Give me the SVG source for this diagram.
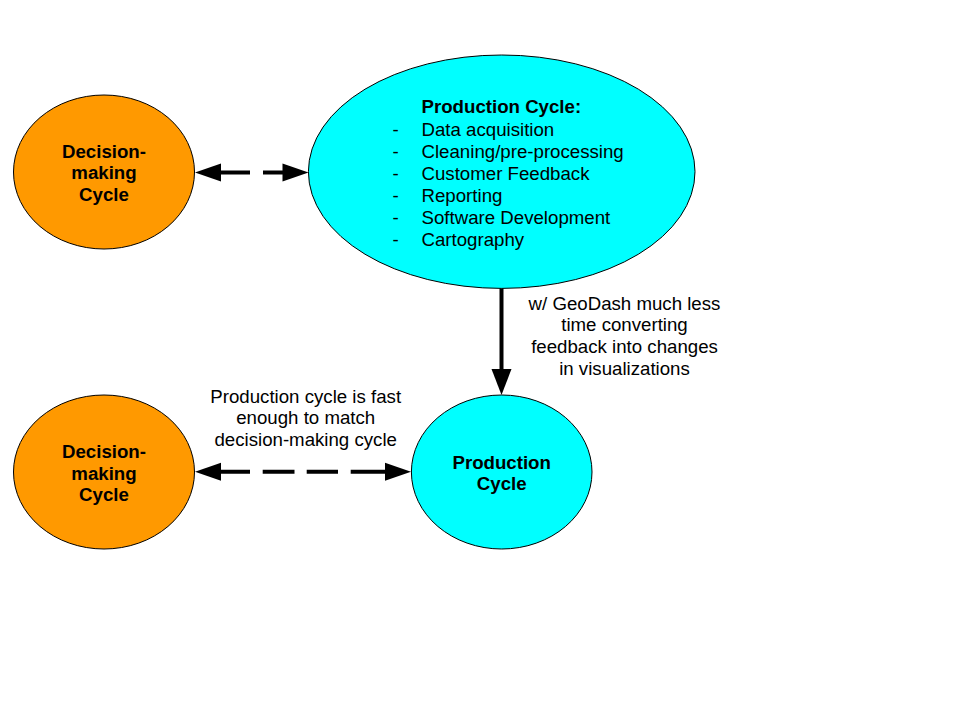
<svg xmlns="http://www.w3.org/2000/svg" width="960" height="720" viewBox="0 0 960 720">
<style>
.orange{fill:#FF9900;stroke:#000;stroke-width:1}
.cyan{fill:#00FFFF;stroke:#000;stroke-width:1}
text{font-family:"Liberation Sans",Arial,sans-serif;font-size:18.67px;fill:#000}
.b{font-weight:bold}
.c{text-anchor:middle}
.ln{stroke:#000;stroke-width:4;fill:none}
.hd{fill:#000}
</style>
<rect width="960" height="720" fill="#fff"/>
<g id="decision-top">
<ellipse class="orange" cx="104" cy="172" rx="90.5" ry="77"/>
<text class="b c" x="104" y="157.5">Decision-</text>
<text class="b c" x="104" y="179.2">making</text>
<text class="b c" x="104" y="200.9">Cycle</text>
</g>
<g id="production-top">
<ellipse class="cyan" cx="501.7" cy="171.7" rx="193.3" ry="116.7"/>
<text class="b" x="421.5" y="113.3">Production Cycle:</text>
<text x="392.5" y="135.5">-</text><text x="421.5" y="135.5">Data acquisition</text>
<text x="392.5" y="157.5">-</text><text x="421.5" y="157.5">Cleaning/pre-processing</text>
<text x="392.5" y="179.5">-</text><text x="421.5" y="179.5">Customer Feedback</text>
<text x="392.5" y="201.5">-</text><text x="421.5" y="201.5">Reporting</text>
<text x="392.5" y="223.5">-</text><text x="421.5" y="223.5">Software Development</text>
<text x="392.5" y="245.5">-</text><text x="421.5" y="245.5">Cartography</text>
</g>
<g id="decision-bottom">
<ellipse class="orange" cx="104" cy="472" rx="90.5" ry="77"/>
<text class="b c" x="104" y="457.8">Decision-</text>
<text class="b c" x="104" y="479.5">making</text>
<text class="b c" x="104" y="501.2">Cycle</text>
</g>
<g id="production-bottom">
<ellipse class="cyan" cx="501.7" cy="472" rx="90.3" ry="77"/>
<text class="b c" x="501.7" y="468.7">Production</text>
<text class="b c" x="501.7" y="490.4">Cycle</text>
</g>
<g id="connectors">
<path class="ln" d="M220,172.5 H250 M263,172.5 H287"/>
<polygon class="hd" points="195,172.5 221,163.5 221,181.5"/>
<polygon class="hd" points="308.5,172.5 282.5,163.5 282.5,181.5"/>
<path class="ln" d="M501.5,288.5 V372"/>
<polygon class="hd" points="501.5,395 491.5,369 511.5,369"/>
<path class="ln" d="M219,471.8 H250 M262.7,471.8 H294.5 M306.7,471.8 H338 M350.7,471.8 H389"/>
<polygon class="hd" points="195,471.8 221,462.8 221,480.8"/>
<polygon class="hd" points="411,471.8 385,462.8 385,480.8"/>
</g>
<g id="labels">
<text class="c" x="624.5" y="309.5">w/ GeoDash much less</text>
<text class="c" x="624.5" y="331.2">time converting</text>
<text class="c" x="624.5" y="352.9">feedback into changes</text>
<text class="c" x="624.5" y="374.6">in visualizations</text>
<text class="c" x="305.7" y="402.7">Production cycle is fast</text>
<text class="c" x="305.7" y="424.4">enough to match</text>
<text class="c" x="305.7" y="446.1">decision-making cycle</text>
</g>
</svg>
